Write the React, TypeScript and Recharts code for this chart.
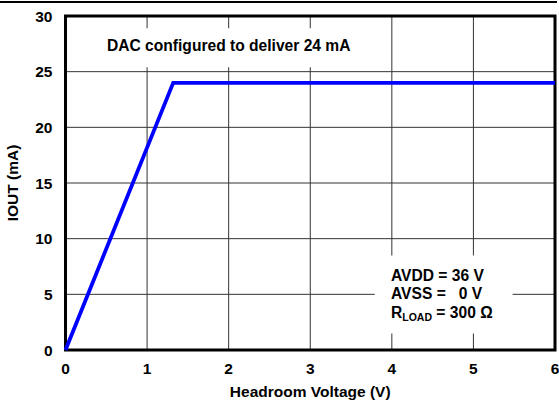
import { CartesianGrid, Label, Line, LineChart, ReferenceArea, XAxis, YAxis } from "recharts";

const voltage = [0, 1.32, 6];
const current = [0, 24, 24];
const xTicks = [0, 1, 2, 3, 4, 5, 6];
const yTicks = [0, 5, 10, 15, 20, 25, 30];

const data = voltage.map((v, i) => ({ v, iout: current[i] }));

const FONT = "'Liberation Sans', Arial, sans-serif";
const tickStyle = { fontFamily: FONT, fontSize: 15.5, fontWeight: 700, fill: "#000" };

export default function App() {
  return (
    <div style={{ position: "fixed", top: 0, left: 0, width: 559, height: 407, background: "#fff" }}>
      <div style={{ position: "absolute", top: 1, left: 0, width: 557, height: 1.5, background: "#000" }} />
      <LineChart width={559} height={407} data={data} margin={{ top: 16, right: 4, left: 0, bottom: 0 }}>
        <CartesianGrid stroke="#333" strokeWidth={1} horizontalValues={[5, 10, 15, 20, 25]} verticalValues={[1, 2, 3, 4, 5]} />
        <XAxis
          dataKey="v"
          type="number"
          domain={[0, 6]}
          ticks={xTicks}
          height={57}
          tickLine={false}
          tickMargin={7}
          axisLine={false}
          tick={tickStyle}
        >
          <Label value="Headroom Voltage (V)" position="insideBottom" offset={10} style={tickStyle} />
        </XAxis>
        <YAxis
          type="number"
          domain={[0, 30]}
          ticks={yTicks}
          width={65.5}
          tickLine={false}
          tickMargin={7}
          axisLine={false}
          tick={tickStyle}
        >
          <Label value="IOUT (mA)" angle={-90} position="insideLeft" offset={12} style={{ ...tickStyle, textAnchor: "middle" }} />
        </YAxis>
        <ReferenceArea x1={0.42} x2={3.6} y1={25.4} y2={28.9} fill="#fff" fillOpacity={1} stroke="none" />
        <ReferenceArea x1={3.79} x2={5.48} y1={1.48} y2={8.49} fill="#fff" fillOpacity={1} stroke="none" />
        <Line dataKey="iout" type="linear" stroke="#0000ff" strokeWidth={3.8} dot={false} isAnimationActive={false} />
        <ReferenceArea x1={0} x2={6} y1={0} y2={30} fill="none" stroke="#000" strokeWidth={3} />
      </LineChart>
      <svg width={559} height={407} style={{ position: "absolute", top: 0, left: 0, pointerEvents: "none" }}>
        <g fontFamily={FONT} fontWeight={700} fontSize={15.6} fill="#000">
          <text x={107} y={51}>DAC configured to deliver 24 mA</text>
          <text x={391} y={281}>AVDD = 36 V</text>
          <text x={391} y={299} style={{ whiteSpace: "pre" }}>AVSS =   0 V</text>
          <text x={391} y={318}>
            R<tspan fontSize={10.5} dy={3}>LOAD</tspan>
            <tspan dy={-3}> = 300 Ω</tspan>
          </text>
        </g>
      </svg>
    </div>
  );
}
